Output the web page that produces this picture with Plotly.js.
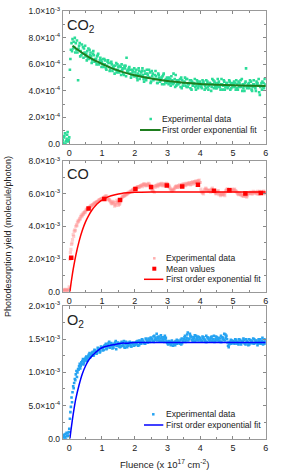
<!DOCTYPE html>
<html>
<head>
<meta charset="utf-8">
<script src="https://cdn.plot.ly/plotly-3.0.1.min.js"></script>
<style>html,body{margin:0;padding:0;background:#fff;}#chart{width:281px;height:474px;}</style>
</head>
<body>
<div id="chart"></div>
<script>
// ---------- fluence grids (x 10^17 cm^-2) ----------
const xA = [-0.2,-0.15,-0.1,-0.05,
0,0.05,0.1,0.15,0.2,0.25,0.3,0.35,0.4,0.45,0.5,0.55,0.6,0.65,0.7,0.75,0.8,0.85,0.9,0.95,
1,1.05,1.1,1.15,1.2,1.25,1.3,1.35,1.4,1.45,1.5,1.55,1.6,1.65,1.7,1.75,1.8,1.85,1.9,1.95,
2,2.05,2.1,2.15,2.2,2.25,2.3,2.35,2.4,2.45,2.5,2.55,2.6,2.65,2.7,2.75,2.8,2.85,2.9,2.95,
3,3.05,3.1,3.15,3.2,3.25,3.3,3.35,3.4,3.45,3.5,3.55,3.6,3.65,3.7,3.75,3.8,3.85,3.9,3.95,
4,4.05,4.1,4.15,4.2,4.25,4.3,4.35,4.4,4.45,4.5,4.55,4.6,4.65,4.7,4.75,4.8,4.85,4.9,4.95,
5,5.05,5.1,5.15,5.2,5.25,5.3,5.35,5.4,5.45,5.5,5.55,5.6,5.65,5.7,5.75,5.8,5.85,5.9,5.95,
6];
const xB = [-0.18,-0.13,-0.08,-0.03,
0.02,0.07,0.12,0.17,0.22,0.27,0.32,0.37,0.42,0.47,0.52,0.57,0.62,0.67,0.72,0.77,0.82,0.87,0.92,0.97,
1.02,1.07,1.12,1.17,1.22,1.27,1.32,1.37,1.42,1.47,1.52,1.57,1.62,1.67,1.72,1.77,1.82,1.87,1.92,1.97,
2.02,2.07,2.12,2.17,2.22,2.27,2.32,2.37,2.42,2.47,2.52,2.57,2.62,2.67,2.72,2.77,2.82,2.87,2.92,2.97,
3.02,3.07,3.12,3.17,3.22,3.27,3.32,3.37,3.42,3.47,3.52,3.57,3.62,3.67,3.72,3.77,3.82,3.87,3.92,3.97,
4.02,4.07,4.12,4.17,4.22,4.27,4.32,4.37,4.42,4.47,4.52,4.57,4.62,4.67,4.72,4.77,4.82,4.87,4.92,4.97,
5.02,5.07,5.12,5.17,5.22,5.27,5.32,5.37,5.42,5.47,5.52,5.57,5.62,5.67,5.72,5.77,5.82,5.87,5.92,5.97];
const xC = [-0.165,-0.115,-0.065,-0.015,
0.035,0.085,0.135,0.185,0.235,0.285,0.335,0.385,0.435,0.485,0.535,0.585,0.635,0.685,0.735,0.785,0.835,0.885,0.935,0.985,
1.035,1.085,1.135,1.185,1.235,1.285,1.335,1.385,1.435,1.485,1.535,1.585,1.635,1.685,1.735,1.785,1.835,1.885,1.935,1.985,
2.035,2.085,2.135,2.185,2.235,2.285,2.335,2.385,2.435,2.485,2.535,2.585,2.635,2.685,2.735,2.785,2.835,2.885,2.935,2.985,
3.035,3.085,3.135,3.185,3.235,3.285,3.335,3.385,3.435,3.485,3.535,3.585,3.635,3.685,3.735,3.785,3.835,3.885,3.935,3.985,
4.035,4.085,4.135,4.185,4.235,4.285,4.335,4.385,4.435,4.485,4.535,4.585,4.635,4.685,4.735,4.785,4.835,4.885,4.935,4.985,
5.035,5.085,5.135,5.185,5.235,5.285,5.335,5.385,5.435,5.485,5.535,5.585,5.635,5.685,5.735,5.785,5.835,5.885,5.935,5.985];

// ---------- CO2 (units of 1e-4 molecule/photon) ----------
const co2A = [0.3,0.6,0.2,0.9,
0.5,7.1,7.9,7.3,7.6,6.9,7.4,7.0,6.8,7.2,6.6,7.0,6.4,6.9,6.3,6.7,6.2,6.6,6.0,6.5,
6.2,5.8,6.3,5.9,6.1,5.6,6.0,5.7,5.9,5.4,5.8,5.5,6.0,5.3,5.7,6.5,5.4,5.6,5.2,5.5,
5.1,5.6,5.3,4.9,5.4,5.2,5.5,4.8,5.2,5.0,4.7,5.3,4.9,5.1,4.6,5.0,4.8,5.1,4.5,4.9,
4.7,5.0,4.4,4.8,4.6,5.2,4.5,4.7,4.3,4.8,4.6,4.4,4.9,4.5,4.2,4.7,4.5,4.3,4.8,4.4,
4.6,4.2,4.7,4.4,4.5,4.1,4.6,4.3,4.8,4.4,4.2,4.6,4.3,4.9,4.4,4.1,4.6,4.3,4.7,4.2,
4.5,4.3,4.8,4.1,4.6,4.3,4.5,4.0,5.7,4.4,4.2,4.7,4.3,4.5,4.0,4.6,3.9,4.4,4.7,4.2,
4.5];
const co2B = [0.1,0.8,0.4,0.2,
5.6,7.6,7.2,8.0,7.1,4.8,7.6,6.7,7.3,6.9,6.8,6.5,7.1,6.6,6.8,6.2,6.4,6.7,6.1,6.3,
6.0,6.4,5.7,6.2,5.8,6.1,5.5,5.9,5.6,6.0,5.4,5.8,5.6,5.2,5.9,5.5,5.7,5.3,5.6,5.1,
5.4,5.0,5.7,5.2,5.5,4.9,5.3,5.6,5.0,5.4,5.5,4.8,5.2,4.9,5.3,4.7,5.0,5.2,4.8,4.6,
4.9,4.6,5.1,4.5,4.9,4.4,4.8,4.6,5.0,4.4,4.7,4.9,4.3,4.6,4.8,4.4,4.6,4.1,4.7,4.5,
4.3,4.8,4.5,4.2,4.7,4.4,4.5,4.9,4.2,4.6,4.4,4.7,4.1,4.5,4.8,4.3,4.6,4.4,4.1,4.6,
4.4,4.6,4.2,4.7,4.4,4.9,4.2,4.6,4.3,4.5,4.8,4.1,4.5,4.3,4.7,4.4,3.7,4.6,4.3,4.9];
const co2C = [0.5,0.0,0.7,0.3,
6.4,7.0,7.7,6.9,7.8,7.2,6.6,7.5,6.5,7.4,6.3,7.2,6.7,6.1,7.0,6.4,6.0,6.8,6.3,5.8,
6.4,6.0,5.6,6.3,5.5,6.2,5.8,5.3,6.1,5.6,5.9,5.2,5.7,5.9,5.1,5.6,5.8,5.0,5.4,5.7,
5.2,4.8,5.5,5.1,5.7,4.7,5.0,5.3,5.6,4.6,5.1,4.9,5.5,4.6,5.2,4.9,4.5,5.3,4.7,5.0,
4.5,4.9,4.6,5.3,4.3,4.8,4.5,4.9,4.2,4.6,5.0,4.3,4.5,4.8,4.1,4.6,4.9,4.4,4.2,4.7,
4.4,4.6,4.1,4.8,4.3,4.6,4.0,4.5,4.7,4.2,4.9,4.3,4.5,4.1,4.7,4.4,4.2,4.8,4.5,4.3,
4.7,4.1,4.5,4.3,4.8,4.0,4.4,4.7,4.2,4.6,4.4,4.0,4.8,4.2,4.5,4.9,4.3,4.1,4.6,4.4];
const co2FitX = [0.1,0.25,0.5,0.75,1,1.25,1.5,1.75,2,2.5,3,3.5,4,4.5,5,5.5,6];
const co2FitY = [7.4,7.12,6.7,6.34,6.04,5.76,5.53,5.34,5.18,4.93,4.75,4.62,4.53,4.47,4.42,4.39,4.37];

// ---------- CO (units of 1e-3 molecule/photon) ----------
const coA = [0.1,0.05,0.12,0.08,
0.3,2.6,3.2,3.7,4.0,4.25,4.4,4.6,4.7,4.85,4.95,5.05,5.15,5.25,5.3,5.4,5.45,5.5,5.6,5.65,
5.7,5.75,5.8,5.85,5.7,5.55,5.45,5.5,5.35,5.6,5.3,5.45,5.75,5.85,5.9,5.95,6.05,6.1,6.15,6.25,
6.3,6.35,6.4,6.45,6.5,6.55,6.6,6.5,6.55,6.6,6.4,6.2,6.1,6.5,6.45,6.55,6.6,6.5,6.6,6.55,
6.6,6.5,6.3,6.2,6.25,6.45,6.4,6.5,6.45,6.55,6.6,6.5,6.6,6.65,6.55,6.7,6.65,6.75,6.7,6.8,
6.7,6.1,6.0,6.3,6.25,6.2,6.15,6.3,6.2,6.1,6.05,6.2,6.0,5.95,6.05,5.9,6.25,6.2,6.3,6.25,
6.2,6.3,6.15,6.0,6.05,5.95,5.9,6.0,5.85,6.0,6.05,6.1,6.0,6.1,6.05,6.15,6.0,6.1,6.05,6.15,
6.1];
const coB = [0.06,0.14,0.09,0.15,
2.0,2.9,3.5,3.8,4.1,4.35,4.5,4.7,4.8,4.9,5.05,5.1,5.2,5.3,5.35,5.45,5.5,5.55,5.65,5.7,
5.75,5.8,5.9,5.75,5.65,5.5,5.4,5.45,5.3,5.5,5.4,5.6,5.8,5.9,5.95,6.0,6.1,6.15,6.2,6.3,
6.35,6.4,6.45,6.5,6.55,6.6,6.5,6.55,6.65,6.5,6.3,6.15,6.4,6.5,6.6,6.55,6.65,6.5,6.6,6.65,
6.55,6.4,6.2,6.25,6.35,6.5,6.4,6.55,6.5,6.6,6.55,6.65,6.6,6.7,6.6,6.75,6.7,6.8,6.75,6.85,
6.3,6.05,6.15,6.35,6.2,6.25,6.1,6.35,6.15,6.05,6.1,5.95,5.9,6.0,5.95,6.1,6.3,6.25,6.2,6.3,
6.25,6.2,6.1,5.95,6.0,5.9,5.85,5.95,5.8,6.05,6.1,6.0,6.15,6.05,6.1,6.0,6.15,6.05,6.1,6.0];
const coC = [0.12,0.08,0.04,0.1,
2.4,3.0,3.4,3.75,4.05,4.3,4.45,4.6,4.75,4.85,5.0,5.1,5.15,5.25,5.35,5.4,5.5,5.55,5.6,5.7,
5.7,5.8,5.75,5.65,5.6,5.4,5.55,5.25,5.45,5.5,5.35,5.65,5.85,5.9,6.0,6.05,6.1,6.15,6.25,6.3,
6.3,6.45,6.4,6.5,6.45,6.6,6.55,6.6,6.5,6.35,6.2,6.45,6.5,6.55,6.5,6.6,6.55,6.6,6.5,6.6,
6.45,6.3,6.2,6.3,6.4,6.45,6.5,6.45,6.55,6.5,6.6,6.55,6.65,6.6,6.7,6.6,6.75,6.7,6.8,6.7,
6.15,6.1,6.25,6.3,6.2,6.2,6.25,6.2,6.15,6.0,6.15,6.05,6.0,5.95,6.0,6.2,6.3,6.2,6.25,6.2,
6.25,6.15,6.05,6.0,5.95,5.95,5.9,5.9,5.9,6.0,6.05,6.05,6.1,6.1,6.0,6.1,6.05,6.1,6.15,6.05];
const coMeanX = [0.06,0.59,1.07,1.55,2.02,2.5,2.98,3.45,3.93,4.42,4.89,5.38,5.85];
const coMeanY = [2.08,5.1,5.68,5.62,6.3,6.42,6.52,6.46,6.56,6.2,6.22,6.02,6.05];
const coFitX = [0.02,0.05,0.1,0.15,0.2,0.3,0.4,0.5,0.6,0.7,0.8,0.9,1,1.2,1.4,1.6,1.8,2,2.5,3,4,5,6];
const coFitY = [0,0.45,1.12,1.7,2.23,3.09,3.77,4.3,4.7,5.03,5.28,5.47,5.62,5.83,5.95,6.03,6.07,6.1,6.12,6.12,6.12,6.12,6.12];

// ---------- O2 (units of 1e-3 molecule/photon) ----------
const o2A = [0.03,0.06,0.0,0.08,
0.15,0.48,0.7,0.84,0.97,1.0,1.09,1.1,1.17,1.15,1.22,1.2,1.27,1.24,1.3,1.26,1.33,1.3,1.36,1.32,
1.38,1.34,1.41,1.36,1.44,1.38,1.42,1.37,1.45,1.4,1.43,1.38,1.46,1.41,1.37,1.44,1.4,1.46,1.39,1.43,
1.41,1.46,1.4,1.48,1.43,1.47,1.44,1.5,1.45,1.49,1.52,1.47,1.55,1.5,1.53,1.48,1.56,1.5,1.46,1.52,
1.44,1.47,1.41,1.45,1.42,1.47,1.43,1.46,1.49,1.44,1.5,1.46,1.57,1.51,1.55,1.49,1.53,1.47,1.52,1.48,
1.51,1.47,1.53,1.49,1.46,1.52,1.48,1.54,1.5,1.47,1.53,1.49,1.51,1.46,1.52,1.48,1.55,1.4,1.46,1.43,
1.47,1.43,1.49,1.45,1.48,1.42,1.47,1.44,1.5,1.45,1.42,1.48,1.44,1.5,1.46,1.41,1.47,1.43,1.52,1.45,
1.47];
const o2B = [0.05,0.02,0.09,0.04,
0.3,0.62,0.79,0.9,1.02,1.05,1.13,1.15,1.2,1.18,1.24,1.23,1.29,1.27,1.31,1.34,1.29,1.37,1.33,1.39,
1.35,1.4,1.43,1.39,1.46,1.4,1.36,1.43,1.47,1.41,1.39,1.44,1.4,1.47,1.42,1.38,1.45,1.41,1.44,1.4,
1.45,1.42,1.47,1.44,1.5,1.46,1.43,1.48,1.51,1.46,1.5,1.54,1.49,1.58,1.51,1.47,1.53,1.49,1.55,1.47,
1.42,1.46,1.44,1.4,1.46,1.43,1.48,1.45,1.42,1.47,1.53,1.49,1.6,1.5,1.54,1.47,1.51,1.55,1.49,1.53,
1.48,1.54,1.5,1.46,1.53,1.49,1.51,1.47,1.55,1.5,1.48,1.52,1.46,1.53,1.49,1.57,1.5,1.38,1.44,1.48,
1.44,1.5,1.46,1.42,1.49,1.45,1.51,1.43,1.47,1.41,1.49,1.45,1.51,1.44,1.48,1.43,1.5,1.46,1.42,1.5];
const o2C = [0.01,0.07,0.04,0.1,
0.4,0.55,0.76,0.88,0.93,1.04,1.06,1.13,1.12,1.2,1.17,1.25,1.22,1.28,1.25,1.32,1.28,1.34,1.3,1.37,
1.33,1.39,1.35,1.42,1.37,1.44,1.39,1.41,1.35,1.45,1.42,1.39,1.44,1.38,1.46,1.41,1.43,1.39,1.45,1.42,
1.43,1.47,1.41,1.46,1.49,1.44,1.51,1.46,1.48,1.52,1.5,1.46,1.52,1.48,1.54,1.51,1.47,1.53,1.5,1.45,
1.46,1.43,1.48,1.44,1.41,1.49,1.46,1.43,1.51,1.47,1.55,1.52,1.48,1.58,1.53,1.5,1.56,1.49,1.54,1.51,
1.49,1.52,1.47,1.55,1.51,1.48,1.53,1.5,1.46,1.54,1.51,1.47,1.55,1.5,1.58,1.52,1.45,1.42,1.49,1.45,
1.46,1.48,1.43,1.5,1.44,1.47,1.49,1.42,1.46,1.5,1.44,1.47,1.43,1.48,1.45,1.5,1.44,1.48,1.46,1.43];
const o2FitX = [0.02,0.05,0.1,0.15,0.2,0.3,0.4,0.5,0.6,0.7,0.8,0.9,1,1.2,1.4,1.6,1.8,2,2.5,3,4,5,6];
const o2FitY = [0,0.12,0.3,0.46,0.6,0.81,0.98,1.1,1.19,1.25,1.3,1.34,1.37,1.4,1.42,1.44,1.44,1.45,1.45,1.45,1.45,1.45,1.45];

// ---------- tick labels ----------
const xTicks = [0,1,2,3,4,5,6];
const co2TickVals = [0,2,4,6,8,10];
const co2TickText = ['0.0','2.0×10<sup>-4</sup>','4.0×10<sup>-4</sup>','6.0×10<sup>-4</sup>','8.0×10<sup>-4</sup>','1.0×10<sup>-3</sup>'];
const coTickVals = [0,2,4,6,8];
const coTickText = ['0.0','2.0×10<sup>-3</sup>','4.0×10<sup>-3</sup>','6.0×10<sup>-3</sup>','8.0×10<sup>-3</sup>'];
const o2TickVals = [0,0.5,1,1.5,2];
const o2TickText = ['0.0','5.0×10<sup>-4</sup>','1.0×10<sup>-3</sup>','1.5×10<sup>-3</sup>','2.0×10<sup>-3</sup>'];

// ---------- styling / layout ----------
const W = 281, H = 474;
const FONT = '"Liberation Sans", Arial, sans-serif';
const TXT = '#222';
const px = v => v / W;
const py = v => 1 - v / H;
const XDOM = [px(62.7), px(265.7)];

const cGreen = '#2bdc98', cGreenFit = '#1e7d1e';
const cPink = 'rgba(255,140,140,0.42)', cRed = '#ff0000';
const cBlue = '#25a3f2', cBlueFit = '#0000ff';

function xAxis(anchor) {
  return {domain: XDOM, anchor: anchor, range: [-0.2, 6], tickvals: xTicks,
    ticks: 'inside', ticklen: 3, tickcolor: '#888', showline: true, linecolor: '#999', linewidth: 1,
    mirror: 'ticks', showgrid: false, zeroline: false,
    minor: {dtick: 0.5, tick0: 0, ticks: 'inside', ticklen: 2, tickcolor: '#888'},
    tickfont: {family: FONT, size: 9, color: TXT}};
}
function yAxis(anchor, dom, rng, tv, tt, minorStep) {
  return {domain: dom, anchor: anchor, range: rng, tickvals: tv, ticktext: tt,
    ticks: 'inside', ticklen: 3, tickcolor: '#888', showline: true, linecolor: '#999', linewidth: 1,
    mirror: 'ticks', showgrid: false, zeroline: false,
    minor: {dtick: minorStep, tick0: 0, ticks: 'inside', ticklen: 2, tickcolor: '#888'},
    tickfont: {family: FONT, size: 8.5, color: TXT}};
}
function pts(x, y, xa, ya, color, size) {
  return {type: 'scatter', mode: 'markers', x: x, y: y, xaxis: xa, yaxis: ya, showlegend: false,
    marker: {symbol: 'square', size: size, color: color, line: {width: 0}}, cliponaxis: true, hoverinfo: 'skip'};
}
function fit(x, y, xa, ya, color, w) {
  return {type: 'scatter', mode: 'lines', x: x, y: y, xaxis: xa, yaxis: ya, showlegend: false,
    line: {color: color, width: w, shape: 'spline', smoothing: 0.8}, hoverinfo: 'skip'};
}

const traces = [
  pts(xA, co2A, 'x', 'y', cGreen, 2.6), pts(xB, co2B, 'x', 'y', cGreen, 2.6), pts(xC, co2C, 'x', 'y', cGreen, 2.6),
  fit(co2FitX, co2FitY, 'x', 'y', cGreenFit, 2),
  pts(xA, coA, 'x2', 'y2', cPink, 3.2), pts(xB, coB, 'x2', 'y2', cPink, 3.2), pts(xC, coC, 'x2', 'y2', cPink, 3.2),
  fit(coFitX, coFitY, 'x2', 'y2', cRed, 1.5),
  pts(coMeanX, coMeanY, 'x2', 'y2', cRed, 4.5),
  pts(xA, o2A, 'x3', 'y3', cBlue, 2.6), pts(xB, o2B, 'x3', 'y3', cBlue, 2.6), pts(xC, o2C, 'x3', 'y3', cBlue, 2.6),
  fit(o2FitX, o2FitY, 'x3', 'y3', cBlueFit, 1.5)
];

function txt(text, x, y, size, opts) {
  return Object.assign({text: text, x: x, y: y, xref: 'paper', yref: 'paper', showarrow: false,
    xanchor: 'left', yanchor: 'middle', borderpad: 0, borderwidth: 0,
    font: {family: FONT, size: size, color: TXT}}, opts || {});
}
const LEG = 8.6;
const annotations = [
  txt('CO<sub>2</sub>', px(66.5), py(26), 14.5),
  txt('CO', px(66.5), py(174), 14.5),
  txt('O<sub>2</sub>', px(66.5), py(321), 14.5),
  txt('Experimental data', px(162.3), py(119), LEG),
  txt('First order exponential fit', px(162.3), py(130), LEG),
  txt('Experimental data', px(166), py(258.3), LEG),
  txt('Mean values', px(166), py(268.7), LEG),
  txt('First order exponential fit', px(166), py(279.3), LEG),
  txt('Experimental data', px(166), py(414.3), LEG),
  txt('First order exponential fit', px(166), py(425), LEG),
  txt('Photodesorption yield (molecule/photon)', px(8), py(237), 9, {xanchor: 'center', textangle: -90}),
  txt('Fluence (x 10<sup>17</sup> cm<sup>-2</sup>)', px(164), py(464), 9.5, {xanchor: 'center'})
];
function sq(cx, cy, s, color) {
  return {type: 'rect', xref: 'paper', yref: 'paper', x0: px(cx - s/2), x1: px(cx + s/2), y0: py(cy + s/2), y1: py(cy - s/2),
    fillcolor: color, line: {width: 0}};
}
function seg(xa, xb, y, color, w) {
  return {type: 'line', xref: 'paper', yref: 'paper', x0: px(xa), x1: px(xb), y0: py(y), y1: py(y), line: {color: color, width: w}};
}
const shapes = [
  sq(150.7, 119, 2.5, cGreen), seg(140, 160.7, 130, cGreenFit, 2),
  sq(154.3, 258.3, 2.5, 'rgba(255,140,140,0.7)'), sq(154.3, 268.7, 4, cRed), seg(144, 163.3, 279.3, cRed, 1.5),
  sq(153.3, 414.3, 2.5, cBlue), seg(144, 163.3, 425, cBlueFit, 1.5)
];

const layout = {
  width: W, height: H, margin: {l: 0, r: 0, t: 0, b: 0}, paper_bgcolor: '#fff', plot_bgcolor: '#fff',
  showlegend: false, font: {family: FONT, color: TXT},
  xaxis: xAxis('y'), xaxis2: xAxis('y2'), xaxis3: xAxis('y3'),
  yaxis: yAxis('x', [py(144), py(11.3)], [0, 10], co2TickVals, co2TickText, 1),
  yaxis2: yAxis('x2', [py(291.7), py(161.3)], [0, 8], coTickVals, coTickText, 1),
  yaxis3: yAxis('x3', [py(438.7), py(306)], [0, 2], o2TickVals, o2TickText, 0.25),
  annotations: annotations, shapes: shapes
};
Plotly.newPlot('chart', traces, layout, {staticPlot: true, displayModeBar: false});
</script>
</body>
</html>
